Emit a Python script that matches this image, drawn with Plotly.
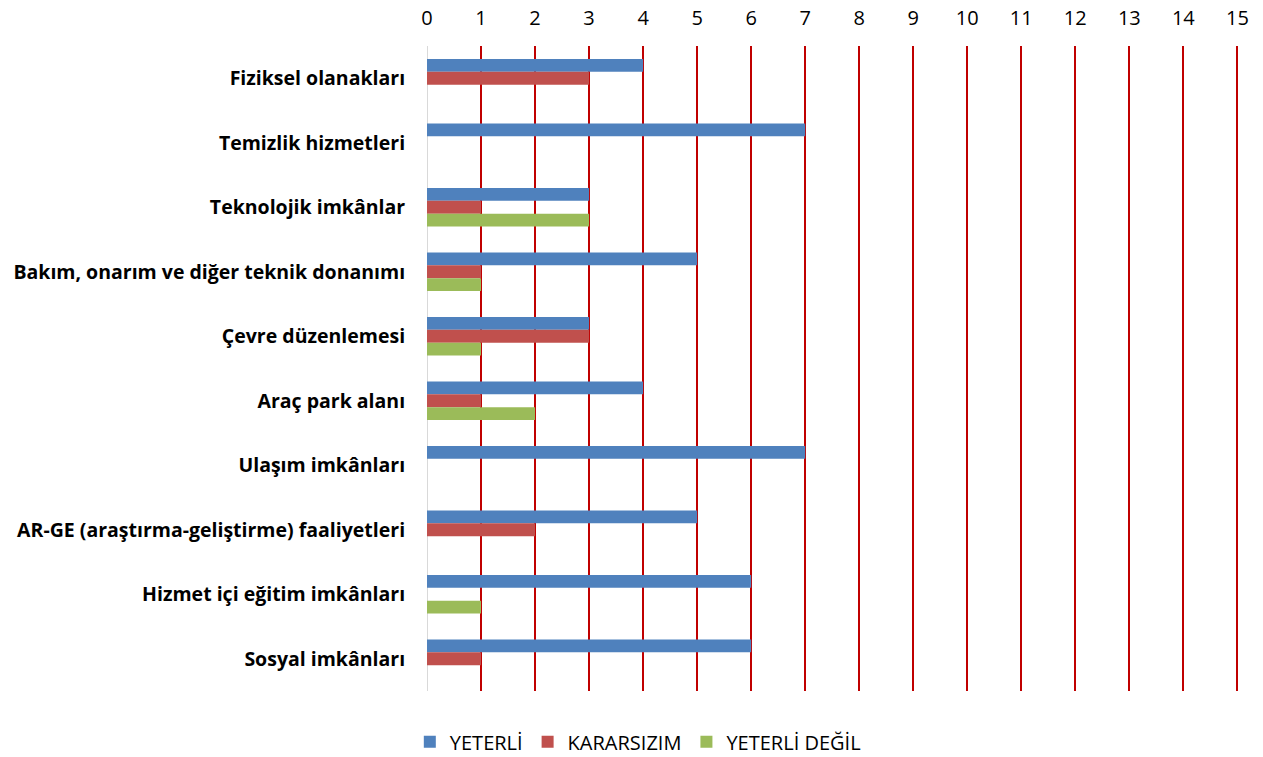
import plotly.graph_objects as go

categories = [
    "Fiziksel olanakları",
    "Temizlik hizmetleri",
    "Teknolojik imkânlar",
    "Bakım, onarım ve diğer teknik donanımı",
    "Çevre düzenlemesi",
    "Araç park alanı",
    "Ulaşım imkânları",
    "AR-GE (araştırma-geliştirme) faaliyetleri",
    "Hizmet içi eğitim imkânları",
    "Sosyal imkânları",
]
yeterli = [4, 7, 3, 5, 3, 4, 7, 5, 6, 6]
kararsizim = [3, 0, 1, 1, 3, 1, 0, 2, 0, 1]
yeterli_degil = [0, 0, 3, 1, 1, 2, 0, 0, 1, 0]

series_names = ["YETERLİ", "KARARSIZIM", "YETERLİ DEĞİL"]
series_values = [yeterli, kararsizim, yeterli_degil]
colors = ["#4F81BD", "#C0504D", "#9BBB59"]
x_ticks = list(range(0, 16))

fig = go.Figure()
for name, vals, col in zip(series_names, series_values, colors):
    fig.add_trace(go.Bar(
        y=categories, x=vals, name=name, orientation="h",
        marker=dict(color=col, line=dict(width=0)),
    ))

fig.update_layout(
    width=1263, height=757,
    barmode="group", bargap=0.4, bargroupgap=0,
    plot_bgcolor="white", paper_bgcolor="white",
    margin=dict(l=427, r=24, t=46, b=66),
    font=dict(family="Open Sans, Liberation Sans, sans-serif", color="#000000"),
    xaxis=dict(
        side="top", range=[0, 15.03], tickvals=x_ticks, ticktext=[str(t) for t in x_ticks],
        showgrid=True, gridcolor="#C00000", gridwidth=2,
        zeroline=False, showline=False, automargin=False,
        ticks="outside", ticklen=12, tickcolor="rgba(0,0,0,0)",
        tickfont=dict(size=20, color="#000000"),
    ),
    yaxis=dict(
        autorange="reversed", showgrid=False, zeroline=False, automargin=False,
        showline=False, ticks="outside", ticklen=17, tickcolor="rgba(0,0,0,0)",
        tickfont=dict(size=19.5, color="#000000", family="Open Sans, sans-serif", weight="bold"),
    ),
    legend=dict(
        orientation="h", x=0.505, xanchor="center", y=0.02, yanchor="middle",
        xref="container", yref="container", font=dict(size=20),
        itemwidth=30, traceorder="normal",
    ),
    showlegend=True,
)

# light gray axis line at x = 0
fig.add_shape(type="line", xref="x", yref="paper", x0=0, x1=0, y0=0, y1=1,
              line=dict(color="#D9D9D9", width=2), layer="below")

fig.write_html(
    "out.html",
    config={"displayModeBar": False},
    post_script="document.body.style.margin='0';document.body.style.overflow='hidden';",
)
